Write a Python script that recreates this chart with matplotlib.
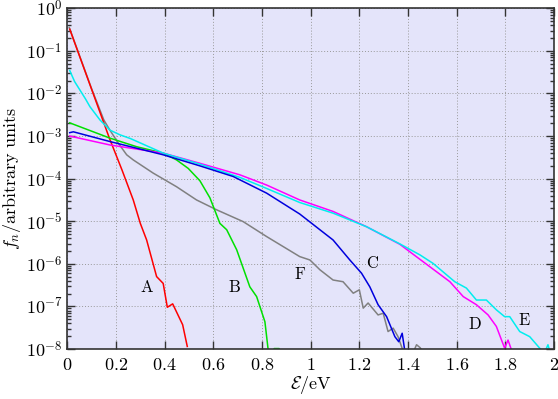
import numpy as np
import matplotlib
matplotlib.use("Agg")
from matplotlib import pyplot as plt
from matplotlib.ticker import FixedLocator, FuncFormatter, LogLocator

plt.rcParams['mathtext.fontset'] = 'cm'
plt.rcParams['font.family'] = 'DejaVu Serif'

# energy (eV) and log10 of f_n for each curve
a_x = [0.01, 0.173, 0.225, 0.271, 0.30, 0.326, 0.367, 0.394, 0.411, 0.433, 0.474, 0.493]
a_y = [-0.49, -3.05, -3.80, -4.50, -5.05, -5.44, -6.30, -6.46, -7.02, -6.94, -7.43, -7.94]

b_x = [0.01, 0.176, 0.285, 0.394, 0.449, 0.497, 0.545, 0.586, 0.627, 0.655, 0.696,
       0.75, 0.778, 0.812, 0.826, 0.84, 0.85, 0.87, 0.88]
b_y = [-2.69, -3.05, -3.25, -3.40, -3.56, -3.76, -4.05, -4.45, -5.05, -5.2, -5.67,
       -6.54, -6.77, -7.36, -8.05, -8.3, -7.99, -7.99, -8.1]

c_x = [0.01, 0.025, 0.176, 0.394, 0.545, 0.682, 0.819, 0.955, 1.038, 1.092, 1.161,
       1.209, 1.243, 1.277, 1.312, 1.346, 1.362, 1.376, 1.387]
c_y = [-2.92, -2.90, -3.13, -3.44, -3.70, -3.95, -4.34, -4.83, -5.2, -5.44, -5.91,
       -6.22, -6.54, -6.96, -7.24, -7.71, -7.83, -7.63, -8.05]

d_x = [0.01, 0.176, 0.394, 0.545, 0.709, 0.819, 0.955, 1.092, 1.23, 1.366, 1.462,
       1.572, 1.627, 1.681, 1.729, 1.763, 1.797, 1.811, 1.825]
d_y = [-3.0, -3.21, -3.40, -3.64, -3.91, -4.15, -4.5, -4.77, -5.13, -5.54, -5.95,
       -6.42, -6.77, -6.96, -7.2, -7.47, -7.98, -7.79, -8.02]

e_x = [0.01, 0.03, 0.052, 0.075, 0.093, 0.134, 0.175, 0.216, 0.26, 0.394, 0.545,
       0.709, 0.819, 0.955, 1.092, 1.23, 1.366, 1.449, 1.503, 1.592, 1.64, 1.681,
       1.722, 1.763, 1.797, 1.818, 1.859, 1.9, 1.941, 1.96, 1.975, 1.985]
e_y = [-1.46, -1.72, -1.92, -2.13, -2.31, -2.62, -2.86, -2.97, -3.06, -3.40, -3.66,
       -3.97, -4.23, -4.56, -4.81, -5.13, -5.53, -5.79, -5.99, -6.42, -6.57, -6.85,
       -6.85, -7.08, -7.24, -7.24, -7.59, -7.71, -7.98, -8.1, -7.9, -8.1]

f_x = [0.008, 0.1, 0.15, 0.175, 0.21, 0.244, 0.271, 0.353, 0.449, 0.531, 0.613,
       0.723, 0.819, 0.955, 0.997, 1.038, 1.092, 1.133, 1.175, 1.2, 1.216, 1.236,
       1.277, 1.298, 1.318, 1.339, 1.359, 1.38, 1.42, 1.435, 1.45, 1.465]
f_y = [-0.45, -1.89, -2.62, -2.86, -3.17, -3.44, -3.56, -3.87, -4.19, -4.5, -4.73,
       -5.01, -5.36, -5.83, -5.91, -6.14, -6.38, -6.42, -6.69, -6.61, -7.04, -6.92,
       -7.2, -7.16, -7.59, -7.51, -7.71, -8.05, -8.1, -7.9, -7.97, -8.1]

curves = [(f_x, f_y, '#808080'), (a_x, a_y, '#ff0000'), (b_x, b_y, '#00e000'),
          (d_x, d_y, '#ff00ff'), (e_x, e_y, '#00eeee'), (c_x, c_y, '#0000dd')]

labels = ['A', 'B', 'C', 'D', 'E', 'F']
label_x = [0.328, 0.685, 1.256, 1.674, 1.88, 0.955]
label_y = [-6.55, -6.55, -6.0, -7.43, -7.32, -6.26]

x_ticks = [0, 0.2, 0.4, 0.6, 0.8, 1, 1.2, 1.4, 1.6, 1.8, 2]

fig = plt.figure(figsize=(5.58, 3.99), dpi=100)
ax = fig.add_axes([0.1206, 0.1253, 0.8723, 0.8539])
ax.set_facecolor('#e4e4fa')

for xs, ys, col in curves:
    ax.plot(xs, 10 ** np.array(ys), color=col, lw=1.1)

for lab, lx, ly in zip(labels, label_x, label_y):
    ax.text(lx, 10 ** ly, r'$\mathrm{%s}$' % lab, fontsize=12, ha='center', va='center')

ax.set_yscale('log')
ax.set_xlim(0, 2)
ax.set_ylim(1e-8, 1)

ax.xaxis.set_major_locator(FixedLocator(x_ticks))
ax.xaxis.set_major_formatter(FuncFormatter(lambda v, p: r'$%g$' % v))
ax.yaxis.set_major_locator(LogLocator(base=10, numticks=20))
ax.yaxis.set_minor_locator(LogLocator(base=10, subs=np.arange(2, 10), numticks=20))
ax.yaxis.set_major_formatter(FuncFormatter(lambda v, p: r'$10^{%d}$' % round(np.log10(v))))
ax.yaxis.set_minor_formatter(FuncFormatter(lambda v, p: ''))

ax.tick_params(which='both', direction='in', top=True, right=True, labelsize=13,
               color='#333333')
ax.tick_params(which='major', length=6, width=1)
ax.tick_params(which='minor', length=3, width=1)
ax.tick_params(axis='x', pad=5)
ax.grid(True, which='major', ls=(0, (1, 2)), color='#999999', lw=0.7)

for sp in ax.spines.values():
    sp.set_color('#333333')
    sp.set_linewidth(1.2)

ax.set_xlabel(r'$\mathcal{E}/\mathrm{eV}$', fontsize=13, labelpad=0)
ax.set_ylabel(r'$f_n/\mathrm{arbitrary\ units}$', fontsize=13, labelpad=2)

fig.savefig('out.png', dpi=100)
